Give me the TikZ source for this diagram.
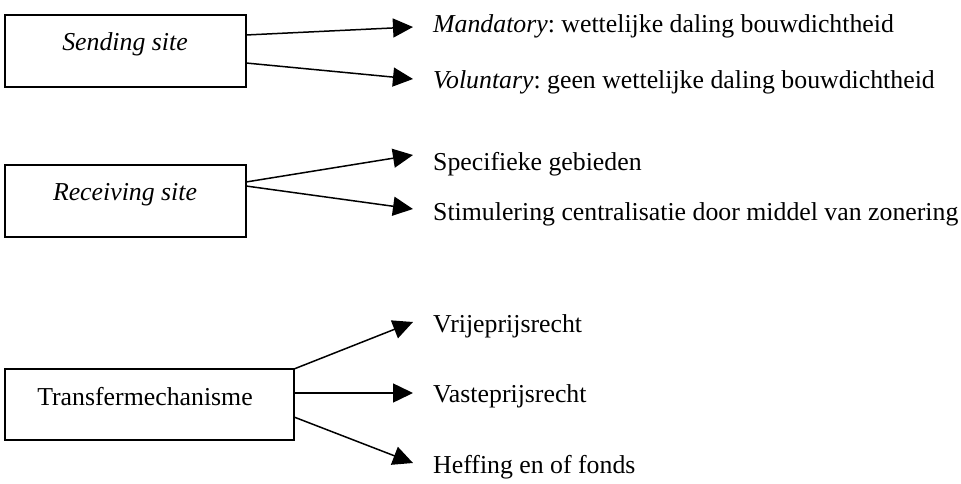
\documentclass[tikz,border=0pt]{standalone}
\usepackage{fontspec}
\setmainfont{Liberation Serif}
\usetikzlibrary{arrows.meta}
\tikzset{
  boxnode/.style={draw, line width=1.9pt, inner sep=0pt},
  boxtext/.style={anchor=base, inner sep=0pt, font=\fontsize{25.8}{30}\selectfont},
  lbl/.style={anchor=base west, inner sep=0pt, font=\fontsize{25.8}{30}\selectfont},
  conn/.style={line width=1.5pt, -{Triangle[length=20pt,width=19pt]}}
}
\begin{document}
\frenchspacing
\begin{tikzpicture}[x=1pt,y=-1pt]
\useasboundingbox (0,0) rectangle (961,484);
% boxes
\node[boxnode, minimum width=241pt, minimum height=72pt] (b1) at (125.5,51) {};
\node[boxnode, minimum width=241pt, minimum height=72pt] (b2) at (125.5,201) {};
\node[boxnode, minimum width=289pt, minimum height=71pt] (b3) at (149.5,404.5) {};
\node[boxtext] (t1) at (125,51) {\itshape Sending site};
\node[boxtext] (t2) at (125,200) {\itshape Receiving site};
\node[boxtext] (t3) at (145,405) {Transfermechanisme};
% labels
\node[lbl] (l1) at (433,33) {\textit{Mandatory}: wettelijke daling bouwdichtheid};
\node[lbl] (l2) at (433,89) {\textit{Voluntary}: geen wettelijke daling bouwdichtheid};
\node[lbl] (l3) at (433,171) {Specifieke gebieden};
\node[lbl] (l4) at (433,220) {Stimulering centralisatie door middel van zonering};
\node[lbl] (l5) at (433,332) {Vrijeprijsrecht};
\node[lbl] (l6) at (433,402) {Vasteprijsrecht};
\node[lbl] (l7) at (433,473) {Heffing en of fonds};
% connector ends
\coordinate (s1) at (246,35);
\coordinate (s2) at (246,63);
\coordinate (s3) at (246,182);
\coordinate (s4) at (246,186);
\coordinate (s5) at (294,369);
\coordinate (s6) at (294,393);
\coordinate (s7) at (294,417);
\coordinate (e1) at (413,27);
\coordinate (e2) at (413,79);
\coordinate (e3) at (413,155);
\coordinate (e4) at (413,209);
\coordinate (e5) at (413,322);
\coordinate (e6) at (413,393);
\coordinate (e7) at (413,463);
\foreach \i in {1,...,7} {\draw[conn] (s\i) -- (e\i);}
\end{tikzpicture}
\end{document}
